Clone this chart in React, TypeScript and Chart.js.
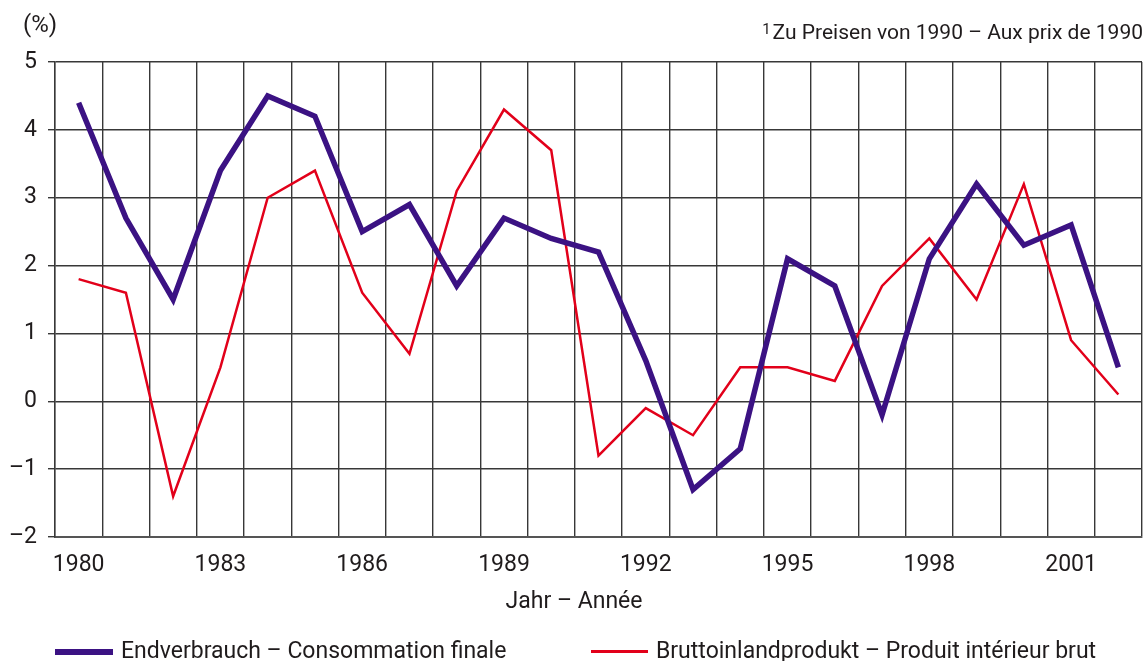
import React, { useEffect, useRef } from 'react';
import { Chart, registerables } from 'chart.js';

Chart.register(...registerables);

const years = [
  '1980', '1981', '1982', '1983', '1984', '1985', '1986', '1987', '1988', '1989', '1990', '1991',
  '1992', '1993', '1994', '1995', '1996', '1997', '1998', '1999', '2000', '2001', '2002',
];
const endverbrauch = [
  4.4, 2.7, 1.5, 3.4, 4.5, 4.2, 2.5, 2.9, 1.7, 2.7, 2.4, 2.2,
  0.6, -1.3, -0.7, 2.1, 1.7, -0.2, 2.1, 3.2, 2.3, 2.6, 0.5,
];
const bip = [
  1.8, 1.6, -1.4, 0.5, 3.0, 3.4, 1.6, 0.7, 3.1, 4.3, 3.7, -0.8,
  -0.1, -0.5, 0.5, 0.5, 0.3, 1.7, 2.4, 1.5, 3.2, 0.9, 0.1,
];
const yMin = -2;
const yMax = 5;
const labelEvery = 3;

const legendLabels = ['Endverbrauch – Consommation finale', 'Bruttoinlandprodukt – Produit intérieur brut'];
const unitLabel = '(%)';
const axisTitle = 'Jahr – Année';
const footnote = 'Zu Preisen von 1990 – Aux prix de 1990';

const FONT = 'Roboto, "Liberation Sans", Arial, sans-serif';
const TEXT = '#1f1b1c';
const GRID = '#383838';
const PURPLE = '#3b1283';
const RED = '#e2001a';

export default function App() {
  const canvasRef = useRef<HTMLCanvasElement | null>(null);

  useEffect(() => {
    const canvas = canvasRef.current;
    if (!canvas) return;
    const chart = new Chart(canvas, {
      type: 'line',
      data: {
        labels: years,
        datasets: [
          {
            label: legendLabels[0],
            data: endverbrauch,
            borderColor: PURPLE,
            backgroundColor: PURPLE,
            borderWidth: 5.5,
            pointRadius: 0,
            tension: 0,
            borderJoinStyle: 'miter',
            borderCapStyle: 'butt',
            fill: false,
          },
          {
            label: legendLabels[1],
            data: bip,
            borderColor: RED,
            backgroundColor: RED,
            borderWidth: 2.5,
            pointRadius: 0,
            tension: 0,
            borderJoinStyle: 'miter',
            borderCapStyle: 'butt',
            fill: false,
          },
        ],
      },
      options: {
        animation: false,
        responsive: false,
        maintainAspectRatio: false,
        devicePixelRatio: 1,
        layout: { padding: { top: 62, right: 6, left: 0, bottom: 0 } },
        plugins: { legend: { display: false }, tooltip: { enabled: false }, title: { display: false } },
        events: [],
        scales: {
          x: {
            type: 'category',
            offset: true,
            grid: { offset: true, color: GRID, lineWidth: 1.4, drawTicks: false },
            border: { display: true, color: '#555', width: 2 },
            ticks: {
              autoSkip: false,
              maxRotation: 0,
              minRotation: 0,
              padding: 14,
              color: TEXT,
              font: { family: FONT, size: 23 },
              callback: (_v: any, i: number) => (i % labelEvery === 0 ? years[i] : ''),
            },
            afterFit: (s: any) => {
              s.height = 124;
            },
          },
          y: {
            min: yMin,
            max: yMax,
            grid: { color: GRID, lineWidth: 1.4, tickLength: 7 },
            border: { display: true, color: GRID, width: 1.4 },
            ticks: {
              stepSize: 1,
              padding: 11,
              color: TEXT,
              font: { family: FONT, size: 23 },
              callback: (v: any) => (Number(v) < 0 ? '–' + Math.abs(Number(v)) : String(v)),
            },
            afterFit: (s: any) => {
              s.width = 55;
            },
          },
        },
      },
    });
    return () => chart.destroy();
  }, []);

  const txt: React.CSSProperties = {
    position: 'absolute',
    fontFamily: FONT,
    fontSize: 23,
    lineHeight: '23px',
    color: TEXT,
    whiteSpace: 'nowrap',
  };

  return (
    <div
      style={{
        position: 'absolute',
        left: 0,
        top: 0,
        width: 1148,
        height: 661,
        background: '#fff',
        overflow: 'hidden',
      }}
    >
      <canvas ref={canvasRef} width={1148} height={661} style={{ position: 'absolute', left: 0, top: 0, width: 1148, height: 661 }} />
      <div style={{ ...txt, left: 23, top: 11.5, fontSize: 24, lineHeight: '24px' }}>{unitLabel}</div>
      <div style={{ ...txt, right: 5, top: 21.6, fontSize: 21, lineHeight: '21px' }}>
        <span style={{ fontSize: 15, position: 'relative', top: -4.3, marginRight: 2 }}>1</span>
        {footnote}
      </div>
      <div style={{ ...txt, left: 0, width: 1148, textAlign: 'center', top: 588.9 }}>{axisTitle}</div>
      <div style={{ position: 'absolute', left: 55, top: 648.7, width: 58, height: 6, background: PURPLE }} />
      <div style={{ ...txt, left: 121, top: 638.9 }}>{legendLabels[0]}</div>
      <div style={{ position: 'absolute', left: 591, top: 649.5, width: 57, height: 3, background: RED }} />
      <div style={{ ...txt, left: 656, top: 638.9 }}>{legendLabels[1]}</div>
    </div>
  );
}
